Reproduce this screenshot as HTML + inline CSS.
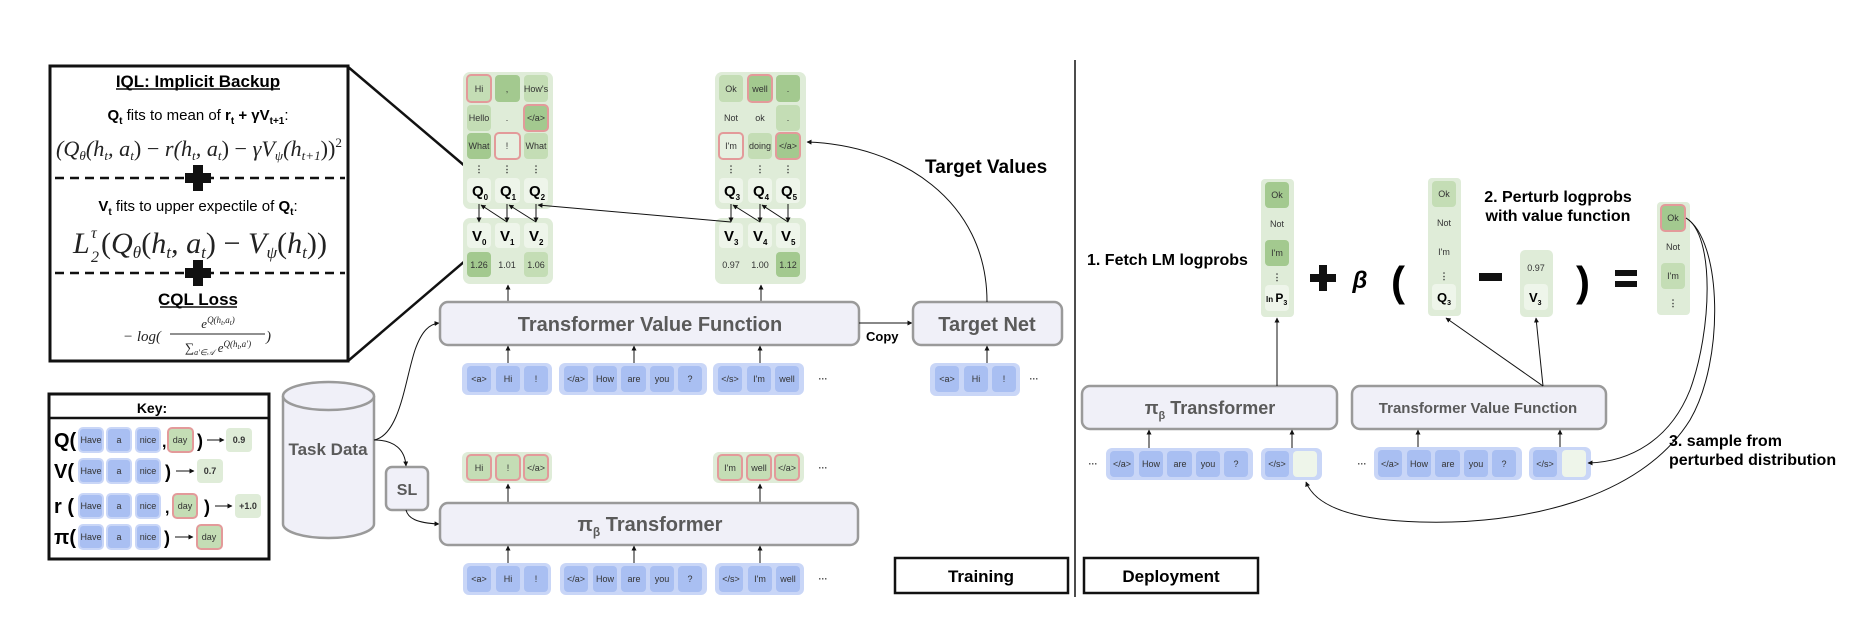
<!DOCTYPE html>
<html><head><meta charset="utf-8"><style>
html,body{margin:0;padding:0;background:#fff;}
svg{display:block;}
text{font-family:"Liberation Sans",Arial,sans-serif;}
.t{font-size:9px;fill:#333;text-anchor:middle;}
.b{font-weight:bold;}
.m{font-family:"Liberation Serif",serif;font-style:italic;fill:#222;}
.bl{fill:#a9bff2;}
.bg{fill:#c9d6f7;}
.gg{fill:#dfecd8;}
.lg{fill:#c4ddb5;}
.mg{fill:#a3c98f;}
.wg{fill:#eef5ea;}
.red{stroke:#e39a9a;stroke-width:2;}
.box{fill:#f0f0f8;stroke:#9a9a9a;stroke-width:2.5;}
.bt{font-weight:bold;fill:#5a5a5a;text-anchor:middle;}
.ln{stroke:#111;stroke-width:1;fill:none;}
</style></head><body>
<svg width="1872" height="624" viewBox="0 0 1872 624" xmlns="http://www.w3.org/2000/svg">
<defs>
<marker id="a" viewBox="0 0 10 10" refX="9" refY="5" markerWidth="5" markerHeight="5" orient="auto"><path d="M0,0 L10,5 L0,10 z" fill="#111"/></marker>
</defs>

<!-- IQL box -->
<rect x="50" y="66" width="298" height="295" fill="#fff" stroke="#111" stroke-width="3"/>
<text x="198" y="87" class="b" font-size="17" text-anchor="middle">IQL: Implicit Backup</text>
<line x1="116" y1="89" x2="280" y2="89" stroke="#111" stroke-width="1.5"/>
<text x="198" y="120" font-size="15" text-anchor="middle"><tspan class="b">Q</tspan><tspan class="b" font-size="10" dy="4">t</tspan><tspan dy="-4"> fits to mean of </tspan><tspan class="b">r</tspan><tspan class="b" font-size="10" dy="4">t</tspan><tspan class="b" dy="-4"> + γV</tspan><tspan class="b" font-size="10" dy="4">t+1</tspan><tspan dy="-4">:</tspan></text>
<text x="56" y="156" class="m" font-size="22" textLength="286" lengthAdjust="spacingAndGlyphs">(Q<tspan font-size="13" dy="4">θ</tspan><tspan dy="-4">(h</tspan><tspan font-size="13" dy="4">t</tspan><tspan dy="-4">, a</tspan><tspan font-size="13" dy="4">t</tspan><tspan dy="-4" font-style="normal">) − </tspan><tspan>r(h</tspan><tspan font-size="13" dy="4">t</tspan><tspan dy="-4">, a</tspan><tspan font-size="13" dy="4">t</tspan><tspan dy="-4" font-style="normal">) − </tspan><tspan>γV</tspan><tspan font-size="13" dy="4">ψ</tspan><tspan dy="-4">(h</tspan><tspan font-size="13" dy="4">t+1</tspan><tspan dy="-4" font-style="normal">))</tspan><tspan font-size="13" dy="-9" font-style="normal">2</tspan></text>
<line x1="55" y1="178" x2="345" y2="178" stroke="#111" stroke-width="2.5" stroke-dasharray="9,6"/>
<rect x="185" y="166" width="26" height="24" fill="#fff"/>
<rect x="193" y="165" width="10" height="26" fill="#111"/><rect x="185" y="173" width="26" height="10" fill="#111"/>
<text x="198" y="211" font-size="15" text-anchor="middle"><tspan class="b">V</tspan><tspan class="b" font-size="10" dy="4">t</tspan><tspan dy="-4"> fits to upper expectile of </tspan><tspan class="b">Q</tspan><tspan class="b" font-size="10" dy="4">t</tspan><tspan dy="-4">:</tspan></text>
<text x="73" y="253" class="m" font-size="30">L</text>
<text x="91" y="238" class="m" font-size="16">τ</text>
<text x="91" y="262" class="m" font-size="16" font-style="normal">2</text>
<text x="101" y="253" class="m" font-size="30" textLength="226" lengthAdjust="spacingAndGlyphs"><tspan font-style="normal">(</tspan><tspan>Q</tspan><tspan font-size="17" dy="5">θ</tspan><tspan dy="-5" font-style="normal">(</tspan><tspan>h</tspan><tspan font-size="17" dy="5">t</tspan><tspan dy="-5">, a</tspan><tspan font-size="17" dy="5">t</tspan><tspan dy="-5" font-style="normal">) − </tspan><tspan>V</tspan><tspan font-size="17" dy="5">ψ</tspan><tspan dy="-5" font-style="normal">(</tspan><tspan>h</tspan><tspan font-size="17" dy="5">t</tspan><tspan dy="-5" font-style="normal">))</tspan></text>
<line x1="55" y1="273" x2="345" y2="273" stroke="#111" stroke-width="2.5" stroke-dasharray="9,6"/>
<rect x="185" y="261" width="26" height="24" fill="#fff"/>
<rect x="193" y="260" width="10" height="26" fill="#111"/><rect x="185" y="268" width="26" height="10" fill="#111"/>
<text x="198" y="305" class="b" font-size="17" text-anchor="middle">CQL Loss</text>
<line x1="160" y1="307" x2="237" y2="307" stroke="#111" stroke-width="1.5"/>
<text x="123" y="341" class="m" font-size="15" font-style="normal">− log(</text>
<text x="218" y="328" class="m" font-size="13" text-anchor="middle">e<tspan font-size="9" dy="-5">Q(h</tspan><tspan font-size="7" dy="2">t</tspan><tspan font-size="9" dy="-2">,a</tspan><tspan font-size="7" dy="2">t</tspan><tspan font-size="9" dy="-2">)</tspan></text>
<line x1="170" y1="334" x2="265" y2="334" stroke="#222" stroke-width="1"/>
<text x="218" y="352" class="m" font-size="13" text-anchor="middle" font-style="normal">∑<tspan font-size="8" dy="3" font-style="italic">a′∈𝒜</tspan><tspan dy="-3" font-style="italic"> e</tspan><tspan font-size="9" dy="-5" font-style="italic">Q(h</tspan><tspan font-size="7" dy="2">t</tspan><tspan font-size="9" dy="-2" font-style="italic">,a′)</tspan></text>
<text x="266" y="341" class="m" font-size="15" font-style="normal">)</text>

<!-- zoom lines -->
<line x1="347" y1="66" x2="479" y2="178" stroke="#111" stroke-width="2.5"/>
<line x1="348" y1="361" x2="479" y2="249" stroke="#111" stroke-width="2.5"/>

<!-- Key -->
<rect x="49" y="394" width="220" height="165" fill="#fff" stroke="#111" stroke-width="3"/>
<line x1="49" y1="418" x2="269" y2="418" stroke="#111" stroke-width="2.5"/>
<text x="152" y="413" class="b" font-size="14" text-anchor="middle">Key:</text>
<g font-size="20" class="b">
<text x="54" y="447">Q(</text><text x="54" y="478">V(</text><text x="54" y="513">r (</text><text x="54" y="544">π(</text>
</g>
<g>
<rect x="79" y="428" width="24" height="24" rx="4" class="bl" stroke="#c9d6f7" stroke-width="2"/><text x="91" y="443" class="t" font-size="8">Have</text>
<rect x="107" y="428" width="24" height="24" rx="4" class="bl" stroke="#c9d6f7" stroke-width="2"/><text x="119" y="443" class="t" font-size="8">a</text>
<rect x="136" y="428" width="24" height="24" rx="4" class="bl" stroke="#c9d6f7" stroke-width="2"/><text x="148" y="443" class="t" font-size="8">nice</text>
<text x="162" y="447" class="b" font-size="16">,</text>
<rect x="168" y="428" width="25" height="24" rx="4" class="lg red"/><text x="180" y="443" class="t" font-size="8">day</text>
<text x="197" y="447" class="b" font-size="18">)</text>
<line x1="207" y1="440" x2="224" y2="440" class="ln" marker-end="url(#a)"/>
<rect x="226" y="428" width="26" height="24" rx="4" fill="#dfecd8"/><text x="239" y="443" class="t b" font-size="8">0.9</text>
<rect x="79" y="459" width="24" height="24" rx="4" class="bl" stroke="#c9d6f7" stroke-width="2"/><text x="91" y="474" class="t" font-size="8">Have</text>
<rect x="107" y="459" width="24" height="24" rx="4" class="bl" stroke="#c9d6f7" stroke-width="2"/><text x="119" y="474" class="t" font-size="8">a</text>
<rect x="136" y="459" width="24" height="24" rx="4" class="bl" stroke="#c9d6f7" stroke-width="2"/><text x="148" y="474" class="t" font-size="8">nice</text>
<text x="165" y="478" class="b" font-size="18">)</text>
<line x1="176" y1="471" x2="194" y2="471" class="ln" marker-end="url(#a)"/>
<rect x="197" y="459" width="26" height="24" rx="4" fill="#dfecd8"/><text x="210" y="474" class="t b" font-size="8">0.7</text>
<rect x="79" y="494" width="24" height="24" rx="4" class="bl" stroke="#c9d6f7" stroke-width="2"/><text x="91" y="509" class="t" font-size="8">Have</text>
<rect x="107" y="494" width="24" height="24" rx="4" class="bl" stroke="#c9d6f7" stroke-width="2"/><text x="119" y="509" class="t" font-size="8">a</text>
<rect x="136" y="494" width="24" height="24" rx="4" class="bl" stroke="#c9d6f7" stroke-width="2"/><text x="148" y="509" class="t" font-size="8">nice</text>
<text x="165" y="513" class="b" font-size="16">,</text>
<rect x="173" y="494" width="24" height="24" rx="4" class="lg red"/><text x="185" y="509" class="t" font-size="8">day</text>
<text x="204" y="513" class="b" font-size="18">)</text>
<line x1="215" y1="506" x2="232" y2="506" class="ln" marker-end="url(#a)"/>
<rect x="235" y="494" width="26" height="24" rx="4" fill="#dfecd8"/><text x="248" y="509" class="t b" font-size="8">+1.0</text>
<rect x="79" y="525" width="24" height="24" rx="4" class="bl" stroke="#c9d6f7" stroke-width="2"/><text x="91" y="540" class="t" font-size="8">Have</text>
<rect x="107" y="525" width="24" height="24" rx="4" class="bl" stroke="#c9d6f7" stroke-width="2"/><text x="119" y="540" class="t" font-size="8">a</text>
<rect x="136" y="525" width="24" height="24" rx="4" class="bl" stroke="#c9d6f7" stroke-width="2"/><text x="148" y="540" class="t" font-size="8">nice</text>
<text x="164" y="544" class="b" font-size="18">)</text>
<line x1="175" y1="537" x2="193" y2="537" class="ln" marker-end="url(#a)"/>
<rect x="197" y="525" width="25" height="24" rx="4" class="lg red"/><text x="209" y="540" class="t" font-size="8">day</text>
</g>

<!-- Task data cylinder -->
<path d="M283,396 L283,524 A45.5,14 0 0 0 374,524 L374,396" class="box"/>
<ellipse cx="328.5" cy="396" rx="45.5" ry="14" class="box"/>
<text x="328" y="455" class="bt" font-size="17">Task Data</text>
<rect x="386" y="467" width="42" height="43" rx="6" class="box"/>
<text x="407" y="495" class="bt" font-size="16">SL</text>
<path d="M374,440 C400,435 405,380 415,350 C422,330 430,324 439,323" class="ln" marker-end="url(#a)"/>
<path d="M374,440 C395,440 405,450 406,466" class="ln" marker-end="url(#a)"/>
<path d="M406,510 C408,518 416,523 439,524" class="ln" marker-end="url(#a)"/>

<!-- Q groups -->
<rect x="463" y="72" width="90" height="137" rx="7" class="gg"/>
<rect x="467" y="75" width="24" height="27" rx="4" class="lg red"/><text x="479" y="92" class="t">Hi</text>
<rect x="495" y="75" width="25" height="27" rx="4" class="mg"/><text x="507" y="92" class="t">,</text>
<rect x="524" y="75" width="24" height="27" rx="4" class="lg"/><text x="536" y="92" class="t" font-size="8">How's</text>
<rect x="467" y="105" width="24" height="26" rx="4" class="lg"/><text x="479" y="121" class="t">Hello</text>
<text x="507" y="121" class="t">.</text>
<rect x="524" y="105" width="24" height="26" rx="4" class="mg red"/><text x="536" y="121" class="t" font-size="8">&lt;/a&gt;</text>
<rect x="467" y="133" width="24" height="26" rx="4" class="mg"/><text x="479" y="149" class="t" font-size="8.5">What</text>
<rect x="495" y="133" width="25" height="26" rx="4" fill="#e6f0e1" class="red"/><text x="507" y="149" class="t">!</text>
<rect x="524" y="133" width="24" height="26" rx="4" class="lg"/><text x="536" y="149" class="t" font-size="8.5">What</text>
<g class="t b" font-size="12"><text x="479" y="172">⋮</text><text x="507" y="172">⋮</text><text x="536" y="172">⋮</text></g>
<rect x="467" y="178" width="24" height="25" rx="4" class="wg"/><rect x="495" y="178" width="25" height="25" rx="4" class="wg"/><rect x="524" y="178" width="24" height="25" rx="4" class="wg"/>
<g class="b" font-size="15"><text x="472" y="196">Q<tspan font-size="8" dy="4">0</tspan></text><text x="500" y="196">Q<tspan font-size="8" dy="4">1</tspan></text><text x="529" y="196">Q<tspan font-size="8" dy="4">2</tspan></text></g>

<rect x="715" y="72" width="91" height="137" rx="7" class="gg"/>
<rect x="719" y="75" width="24" height="27" rx="4" class="lg"/><text x="731" y="92" class="t">Ok</text>
<rect x="748" y="75" width="24" height="27" rx="4" class="mg red"/><text x="760" y="92" class="t">well</text>
<rect x="776" y="75" width="24" height="27" rx="4" class="mg"/><text x="788" y="92" class="t">.</text>
<text x="731" y="121" class="t">Not</text><text x="760" y="121" class="t">ok</text>
<rect x="776" y="105" width="24" height="26" rx="4" class="lg"/><text x="788" y="121" class="t">.</text>
<rect x="719" y="133" width="24" height="26" rx="4" fill="#e6f0e1" class="red"/><text x="731" y="149" class="t">I'm</text>
<rect x="748" y="133" width="24" height="26" rx="4" class="lg"/><text x="760" y="149" class="t" font-size="8.5">doing</text>
<rect x="776" y="133" width="24" height="26" rx="4" class="mg red"/><text x="788" y="149" class="t" font-size="8">&lt;/a&gt;</text>
<g class="t b" font-size="12"><text x="731" y="172">⋮</text><text x="760" y="172">⋮</text><text x="788" y="172">⋮</text></g>
<rect x="719" y="178" width="24" height="25" rx="4" class="wg"/><rect x="748" y="178" width="24" height="25" rx="4" class="wg"/><rect x="776" y="178" width="24" height="25" rx="4" class="wg"/>
<g class="b" font-size="15"><text x="724" y="196">Q<tspan font-size="8" dy="4">3</tspan></text><text x="753" y="196">Q<tspan font-size="8" dy="4">4</tspan></text><text x="781" y="196">Q<tspan font-size="8" dy="4">5</tspan></text></g>

<!-- V groups -->
<rect x="463" y="218" width="90" height="66" rx="7" class="gg"/>
<rect x="467" y="223" width="24" height="25" rx="4" class="wg"/><rect x="495" y="223" width="25" height="25" rx="4" class="wg"/><rect x="524" y="223" width="24" height="25" rx="4" class="wg"/>
<g class="b" font-size="15"><text x="472" y="241">V<tspan font-size="8" dy="4">0</tspan></text><text x="500" y="241">V<tspan font-size="8" dy="4">1</tspan></text><text x="529" y="241">V<tspan font-size="8" dy="4">2</tspan></text></g>
<rect x="467" y="252" width="24" height="25" rx="4" class="mg"/><text x="479" y="268" class="t">1.26</text>
<text x="507" y="268" class="t">1.01</text>
<rect x="524" y="252" width="24" height="25" rx="4" class="lg"/><text x="536" y="268" class="t">1.06</text>

<rect x="715" y="218" width="91" height="66" rx="7" class="gg"/>
<rect x="719" y="223" width="24" height="25" rx="4" class="wg"/><rect x="748" y="223" width="24" height="25" rx="4" class="wg"/><rect x="776" y="223" width="24" height="25" rx="4" class="wg"/>
<g class="b" font-size="15"><text x="724" y="241">V<tspan font-size="8" dy="4">3</tspan></text><text x="753" y="241">V<tspan font-size="8" dy="4">4</tspan></text><text x="781" y="241">V<tspan font-size="8" dy="4">5</tspan></text></g>
<text x="731" y="268" class="t">0.97</text><text x="760" y="268" class="t">1.00</text>
<rect x="776" y="252" width="24" height="25" rx="4" class="mg"/><text x="788" y="268" class="t">1.12</text>

<g class="ln">
<line x1="479" y1="204" x2="479" y2="222" marker-end="url(#a)"/>
<line x1="507" y1="204" x2="507" y2="222" marker-end="url(#a)"/>
<line x1="536" y1="204" x2="536" y2="222" marker-end="url(#a)"/>
<line x1="507" y1="222" x2="481" y2="205" marker-end="url(#a)"/>
<line x1="536" y1="222" x2="509" y2="205" marker-end="url(#a)"/>
<line x1="731" y1="222" x2="538" y2="205" marker-end="url(#a)"/>
<line x1="731" y1="204" x2="731" y2="222" marker-end="url(#a)"/>
<line x1="760" y1="204" x2="760" y2="222" marker-end="url(#a)"/>
<line x1="788" y1="204" x2="788" y2="222" marker-end="url(#a)"/>
<line x1="760" y1="222" x2="733" y2="205" marker-end="url(#a)"/>
<line x1="788" y1="222" x2="762" y2="205" marker-end="url(#a)"/>
<line x1="508" y1="302" x2="508" y2="285" marker-end="url(#a)"/>
<line x1="761" y1="302" x2="761" y2="285" marker-end="url(#a)"/>
</g>

<rect x="440" y="302" width="419" height="43" rx="8" class="box"/>
<text x="650" y="331" class="bt" font-size="20">Transformer Value Function</text>
<line x1="859" y1="323" x2="912" y2="323" class="ln" marker-end="url(#a)"/>
<text x="866" y="341" class="b" font-size="13">Copy</text>
<rect x="913" y="302" width="149" height="43" rx="8" class="box"/>
<text x="987" y="331" class="bt" font-size="20">Target Net</text>
<path d="M987,302 C987,200 900,145 807,142" class="ln" marker-end="url(#a)"/>
<text x="925" y="173" class="b" font-size="19">Target Values</text>

<g>
<rect x="462" y="363" width="90" height="32" rx="6" class="bg"/>
<rect x="467" y="366" width="24" height="26" rx="4" class="bl"/><text x="479" y="382" class="t" font-size="8">&lt;a&gt;</text>
<rect x="496" y="366" width="24" height="26" rx="4" class="bl"/><text x="508" y="382" class="t">Hi</text>
<rect x="524" y="366" width="24" height="26" rx="4" class="bl"/><text x="536" y="382" class="t">!</text>
<rect x="559" y="363" width="148" height="32" rx="6" class="bg"/>
<rect x="564" y="366" width="24" height="26" rx="4" class="bl"/><text x="576" y="382" class="t" font-size="8">&lt;/a&gt;</text>
<rect x="593" y="366" width="24" height="26" rx="4" class="bl"/><text x="605" y="382" class="t">How</text>
<rect x="621" y="366" width="25" height="26" rx="4" class="bl"/><text x="634" y="382" class="t">are</text>
<rect x="650" y="366" width="24" height="26" rx="4" class="bl"/><text x="662" y="382" class="t">you</text>
<rect x="678" y="366" width="24" height="26" rx="4" class="bl"/><text x="690" y="382" class="t">?</text>
<rect x="713" y="363" width="91" height="32" rx="6" class="bg"/>
<rect x="718" y="366" width="24" height="26" rx="4" class="bl"/><text x="730" y="382" class="t" font-size="8">&lt;/s&gt;</text>
<rect x="747" y="366" width="24" height="26" rx="4" class="bl"/><text x="759" y="382" class="t">I'm</text>
<rect x="775" y="366" width="24" height="26" rx="4" class="bl"/><text x="787" y="382" class="t">well</text>
<text x="823" y="382" class="t b">···</text>
</g>
<g class="ln">
<line x1="508" y1="363" x2="508" y2="346" marker-end="url(#a)"/>
<line x1="634" y1="363" x2="634" y2="346" marker-end="url(#a)"/>
<line x1="760" y1="363" x2="760" y2="346" marker-end="url(#a)"/>
<line x1="987" y1="363" x2="987" y2="346" marker-end="url(#a)"/>
</g>
<rect x="930" y="363" width="90" height="33" rx="6" class="bg"/>
<rect x="935" y="366" width="24" height="26" rx="4" class="bl"/><text x="947" y="382" class="t" font-size="8">&lt;a&gt;</text>
<rect x="964" y="366" width="24" height="26" rx="4" class="bl"/><text x="976" y="382" class="t">Hi</text>
<rect x="992" y="366" width="24" height="26" rx="4" class="bl"/><text x="1004" y="382" class="t">!</text>
<text x="1034" y="382" class="t b">···</text>

<rect x="462" y="452" width="90" height="31" rx="6" class="gg"/>
<rect x="467" y="455" width="24" height="25" rx="4" class="lg red"/><text x="479" y="471" class="t">Hi</text>
<rect x="496" y="455" width="24" height="25" rx="4" class="lg red"/><text x="508" y="471" class="t">!</text>
<rect x="524" y="455" width="24" height="25" rx="4" class="lg red"/><text x="536" y="471" class="t" font-size="8">&lt;/a&gt;</text>
<rect x="713" y="452" width="91" height="31" rx="6" class="gg"/>
<rect x="718" y="455" width="24" height="25" rx="4" class="lg red"/><text x="730" y="471" class="t">I'm</text>
<rect x="747" y="455" width="24" height="25" rx="4" class="lg red"/><text x="759" y="471" class="t">well</text>
<rect x="775" y="455" width="24" height="25" rx="4" class="lg red"/><text x="787" y="471" class="t" font-size="8">&lt;/a&gt;</text>
<text x="823" y="471" class="t b">···</text>
<g class="ln">
<line x1="508" y1="503" x2="508" y2="484" marker-end="url(#a)"/>
<line x1="760" y1="503" x2="760" y2="484" marker-end="url(#a)"/>
</g>

<rect x="440" y="503" width="418" height="42" rx="8" class="box"/>
<text x="650" y="531" class="bt" font-size="20">π<tspan font-size="12" dy="5">β</tspan><tspan dy="-5"> Transformer</tspan></text>
<g>
<rect x="463" y="563" width="88" height="32" rx="6" class="bg"/>
<rect x="467" y="566" width="24" height="26" rx="4" class="bl"/><text x="479" y="582" class="t" font-size="8">&lt;a&gt;</text>
<rect x="496" y="566" width="24" height="26" rx="4" class="bl"/><text x="508" y="582" class="t">Hi</text>
<rect x="524" y="566" width="24" height="26" rx="4" class="bl"/><text x="536" y="582" class="t">!</text>
<rect x="560" y="563" width="147" height="32" rx="6" class="bg"/>
<rect x="564" y="566" width="24" height="26" rx="4" class="bl"/><text x="576" y="582" class="t" font-size="8">&lt;/a&gt;</text>
<rect x="593" y="566" width="24" height="26" rx="4" class="bl"/><text x="605" y="582" class="t">How</text>
<rect x="621" y="566" width="25" height="26" rx="4" class="bl"/><text x="634" y="582" class="t">are</text>
<rect x="650" y="566" width="24" height="26" rx="4" class="bl"/><text x="662" y="582" class="t">you</text>
<rect x="678" y="566" width="24" height="26" rx="4" class="bl"/><text x="690" y="582" class="t">?</text>
<rect x="715" y="563" width="89" height="32" rx="6" class="bg"/>
<rect x="719" y="566" width="24" height="26" rx="4" class="bl"/><text x="731" y="582" class="t" font-size="8">&lt;/s&gt;</text>
<rect x="748" y="566" width="24" height="26" rx="4" class="bl"/><text x="760" y="582" class="t">I'm</text>
<rect x="776" y="566" width="24" height="26" rx="4" class="bl"/><text x="788" y="582" class="t">well</text>
<text x="823" y="582" class="t b">···</text>
</g>
<g class="ln">
<line x1="508" y1="563" x2="508" y2="546" marker-end="url(#a)"/>
<line x1="634" y1="563" x2="634" y2="546" marker-end="url(#a)"/>
<line x1="760" y1="563" x2="760" y2="546" marker-end="url(#a)"/>
</g>

<line x1="1075" y1="60" x2="1075" y2="597" stroke="#111" stroke-width="1.5"/>
<rect x="895" y="558" width="173" height="35" fill="#fff" stroke="#111" stroke-width="2.5"/>
<text x="981" y="582" class="b" font-size="17" text-anchor="middle">Training</text>
<rect x="1084" y="558" width="174" height="35" fill="#fff" stroke="#111" stroke-width="2.5"/>
<text x="1171" y="582" class="b" font-size="17" text-anchor="middle">Deployment</text>

<text x="1087" y="265" class="b" font-size="16">1. Fetch LM logprobs</text>
<rect x="1261" y="179" width="33" height="138" rx="4" class="gg"/>
<rect x="1265" y="182" width="24" height="26" rx="4" class="mg"/><text x="1277" y="198" class="t" font-size="8">Ok</text>
<text x="1277" y="227" class="t" font-size="8">Not</text>
<rect x="1265" y="240" width="24" height="26" rx="4" class="mg"/><text x="1277" y="256" class="t" font-size="8">I'm</text>
<text x="1277" y="280" class="t b" font-size="11">⋮</text>
<rect x="1265" y="285" width="24" height="26" rx="4" class="wg"/>
<text x="1266" y="302" class="b" font-size="8">ln <tspan font-size="12">P</tspan><tspan font-size="7" dy="3">3</tspan></text>

<rect x="1319" y="265" width="8" height="26" fill="#111"/><rect x="1310" y="274" width="26" height="8" fill="#111"/>
<text x="1360" y="288" class="b" font-size="24" font-style="italic" text-anchor="middle" font-family="Liberation Serif,serif">β</text>
<text x="1398" y="296" class="b" font-size="42" text-anchor="middle">(</text>

<rect x="1428" y="178" width="33" height="138" rx="4" class="gg"/>
<rect x="1432" y="181" width="24" height="26" rx="4" class="lg"/><text x="1444" y="197" class="t" font-size="8">Ok</text>
<text x="1444" y="226" class="t" font-size="8">Not</text>
<text x="1444" y="255" class="t" font-size="8">I'm</text>
<text x="1444" y="279" class="t b" font-size="11">⋮</text>
<rect x="1432" y="284" width="24" height="26" rx="4" class="wg"/>
<text x="1437" y="302" class="b" font-size="13">Q<tspan font-size="7" dy="3">3</tspan></text>

<rect x="1479" y="273" width="23" height="8" fill="#111"/>
<rect x="1520" y="250" width="33" height="67" rx="5" class="gg"/>
<text x="1536" y="271" class="t" font-size="8">0.97</text>
<rect x="1524" y="284" width="24" height="26" rx="4" class="wg"/>
<text x="1529" y="302" class="b" font-size="13">V<tspan font-size="7" dy="3">3</tspan></text>

<text x="1583" y="296" class="b" font-size="42" text-anchor="middle">)</text>
<rect x="1615" y="270" width="22" height="6" fill="#111"/><rect x="1615" y="281" width="22" height="6" fill="#111"/>
<rect x="1657" y="202" width="33" height="113" rx="4" class="gg"/>
<rect x="1661" y="205" width="24" height="26" rx="4" class="mg red"/><text x="1673" y="221" class="t" font-size="8">Ok</text>
<text x="1673" y="250" class="t" font-size="8">Not</text>
<rect x="1661" y="263" width="24" height="26" rx="4" class="lg"/><text x="1673" y="279" class="t" font-size="8">I'm</text>
<text x="1673" y="306" class="t b" font-size="11">⋮</text>

<text x="1558" y="202" class="b" font-size="16" text-anchor="middle">2. Perturb logprobs</text>
<text x="1558" y="221" class="b" font-size="16" text-anchor="middle">with value function</text>

<rect x="1082" y="386" width="255" height="43" rx="8" class="box"/>
<text x="1210" y="414" class="bt" font-size="18">π<tspan font-size="11" dy="5">β</tspan><tspan dy="-5"> Transformer</tspan></text>
<rect x="1352" y="386" width="254" height="43" rx="8" class="box"/>
<text x="1478" y="413" class="bt" font-size="15">Transformer Value Function</text>
<g class="ln">
<line x1="1277" y1="386" x2="1277" y2="318" marker-end="url(#a)"/>
<line x1="1543" y1="386" x2="1446" y2="318" marker-end="url(#a)"/>
<line x1="1543" y1="386" x2="1536" y2="318" marker-end="url(#a)"/>
<line x1="1149" y1="448" x2="1149" y2="430" marker-end="url(#a)"/>
<line x1="1292" y1="448" x2="1292" y2="430" marker-end="url(#a)"/>
<line x1="1418" y1="447" x2="1418" y2="430" marker-end="url(#a)"/>
<line x1="1560" y1="447" x2="1560" y2="430" marker-end="url(#a)"/>
</g>
<text x="1093" y="467" class="t b">···</text>
<rect x="1106" y="448" width="147" height="32" rx="6" class="bg"/>
<rect x="1110" y="451" width="24" height="26" rx="4" class="bl"/><text x="1122" y="467" class="t" font-size="8">&lt;/a&gt;</text>
<rect x="1139" y="451" width="24" height="26" rx="4" class="bl"/><text x="1151" y="467" class="t">How</text>
<rect x="1167" y="451" width="25" height="26" rx="4" class="bl"/><text x="1180" y="467" class="t">are</text>
<rect x="1196" y="451" width="24" height="26" rx="4" class="bl"/><text x="1208" y="467" class="t">you</text>
<rect x="1224" y="451" width="24" height="26" rx="4" class="bl"/><text x="1236" y="467" class="t">?</text>
<rect x="1261" y="448" width="61" height="32" rx="6" class="bg"/>
<rect x="1265" y="451" width="24" height="26" rx="4" class="bl"/><text x="1277" y="467" class="t" font-size="8">&lt;/s&gt;</text>
<rect x="1293" y="451" width="24" height="26" rx="4" class="wg"/>
<text x="1362" y="467" class="t b">···</text>
<rect x="1374" y="447" width="148" height="33" rx="6" class="bg"/>
<rect x="1378" y="450" width="24" height="27" rx="4" class="bl"/><text x="1390" y="467" class="t" font-size="8">&lt;/a&gt;</text>
<rect x="1407" y="450" width="24" height="27" rx="4" class="bl"/><text x="1419" y="467" class="t">How</text>
<rect x="1435" y="450" width="25" height="27" rx="4" class="bl"/><text x="1448" y="467" class="t">are</text>
<rect x="1464" y="450" width="24" height="27" rx="4" class="bl"/><text x="1476" y="467" class="t">you</text>
<rect x="1492" y="450" width="24" height="27" rx="4" class="bl"/><text x="1504" y="467" class="t">?</text>
<rect x="1529" y="447" width="62" height="33" rx="6" class="bg"/>
<rect x="1533" y="450" width="24" height="27" rx="4" class="bl"/><text x="1545" y="467" class="t" font-size="8">&lt;/s&gt;</text>
<rect x="1562" y="450" width="24" height="27" rx="4" class="wg"/>

<path d="M1686,218 C1715,235 1712,330 1690,390 C1670,440 1630,462 1588,463" class="ln" marker-end="url(#a)"/>
<path d="M1686,218 C1722,240 1725,360 1690,420 C1640,500 1520,525 1420,522 C1350,520 1315,505 1306,482" class="ln" marker-end="url(#a)"/>
<text x="1669" y="446" class="b" font-size="16">3. sample from</text>
<text x="1669" y="465" class="b" font-size="16">perturbed distribution</text>
</svg>
</body></html>
